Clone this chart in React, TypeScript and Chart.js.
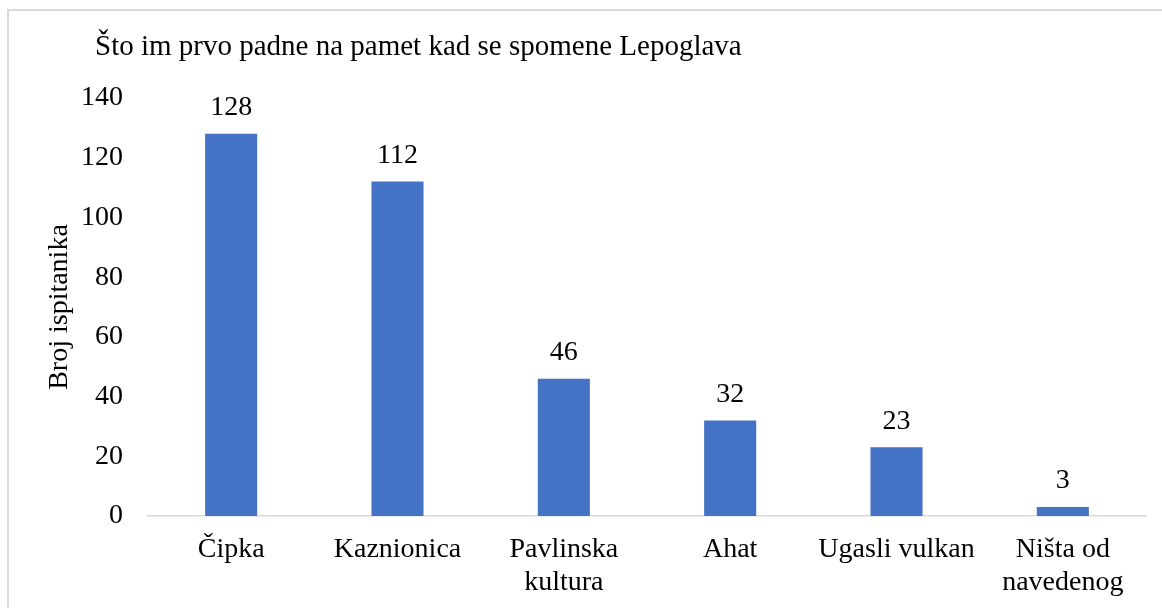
import React, { useEffect, useRef } from "react";
import { Chart, registerables } from "chart.js";

Chart.register(...registerables);

const chartTitle = "Što im prvo padne na pamet kad se spomene Lepoglava";
const yAxisTitle = "Broj ispitanika";
const categories: (string | string[])[] = [
  "Čipka",
  "Kaznionica",
  ["Pavlinska", "kultura"],
  "Ahat",
  "Ugasli vulkan",
  ["Ništa od", "navedenog"],
];
const values: number[] = [128, 112, 46, 32, 23, 3];
const yMin = 0;
const yMax = 140;
const yStep = 20;

const FONT = "'Liberation Serif', 'Times New Roman', serif";
const FS = 28;
const TITLE_FS = 29;

export default function App() {
  const ref = useRef<HTMLCanvasElement | null>(null);

  useEffect(() => {
    if (!ref.current) return;
    const framePlugin = {
      id: "frame",
      beforeDraw(chart: any) {
        const ctx = chart.ctx;
        ctx.save();
        ctx.fillStyle = "#ffffff";
        ctx.fillRect(0, 0, chart.width, chart.height);
        ctx.strokeStyle = "#d9d9d9";
        ctx.lineWidth = 2;
        ctx.strokeRect(8, 10, 3000, 3000);
        ctx.restore();
      },
      afterDraw(chart: any) {
        const ctx = chart.ctx;
        ctx.save();
        ctx.fillStyle = "#000";
        ctx.font = `${TITLE_FS}px ${FONT}`;
        ctx.textAlign = "left";
        ctx.textBaseline = "middle";
        ctx.fillText(chartTitle, 95, 47);
        ctx.restore();
      },
    };
    const labelPlugin = {
      id: "barLabels",
      afterDatasetsDraw(chart: any) {
        const ctx = chart.ctx;
        const meta = chart.getDatasetMeta(0);
        ctx.save();
        ctx.fillStyle = "#000";
        ctx.font = `${FS}px ${FONT}`;
        ctx.textAlign = "center";
        ctx.textBaseline = "middle";
        meta.data.forEach((bar: any, i: number) => {
          ctx.fillText(String(values[i]), bar.x, bar.y - 26);
        });
        ctx.restore();
      },
    };
    const chart = new Chart(ref.current, {
      type: "bar",
      data: {
        labels: categories,
        datasets: [
          {
            data: values,
            backgroundColor: "#4472C4",
            borderWidth: 0,
            barPercentage: 0.313,
            categoryPercentage: 1,
          },
        ],
      },
      options: {
        animation: false,
        responsive: false,
        maintainAspectRatio: false,
        layout: { padding: { left: 43, right: 16, top: 98, bottom: 0 } },
        plugins: {
          legend: { display: false },
          tooltip: { enabled: false },
          title: { display: false },
        },
        scales: {
          x: {
            grid: { display: false, drawTicks: false, tickLength: 0 },
            border: { display: true, color: "#d9d9d9", width: 1.5 },
            ticks: {
              color: "#000",
              font: { family: FONT, size: FS, lineHeight: 1.18 },
              padding: 17,
              maxRotation: 0,
              autoSkip: false,
            },
            afterFit(scale: any) {
              scale.height = 92;
            },
          },
          y: {
            min: yMin,
            max: yMax,
            grid: { display: false, drawTicks: false, tickLength: 0 },
            border: { display: false },
            ticks: {
              stepSize: yStep,
              color: "#000",
              font: { family: FONT, size: FS },
              padding: 25,
            },
            title: {
              display: true,
              text: yAxisTitle,
              color: "#000",
              font: { family: FONT, size: FS, lineHeight: 1.2 },
              padding: 0,
            },
            afterFit(scale: any) {
              scale.width = 105;
            },
          },
        },
      },
      plugins: [framePlugin, labelPlugin],
    });
    return () => chart.destroy();
  }, []);

  return (
    <div style={{ position: "fixed", left: 0, top: 0, width: 1162, height: 608, background: "#fff" }}>
      <canvas ref={ref} width={1162} height={608} style={{ display: "block" }} />
    </div>
  );
}
